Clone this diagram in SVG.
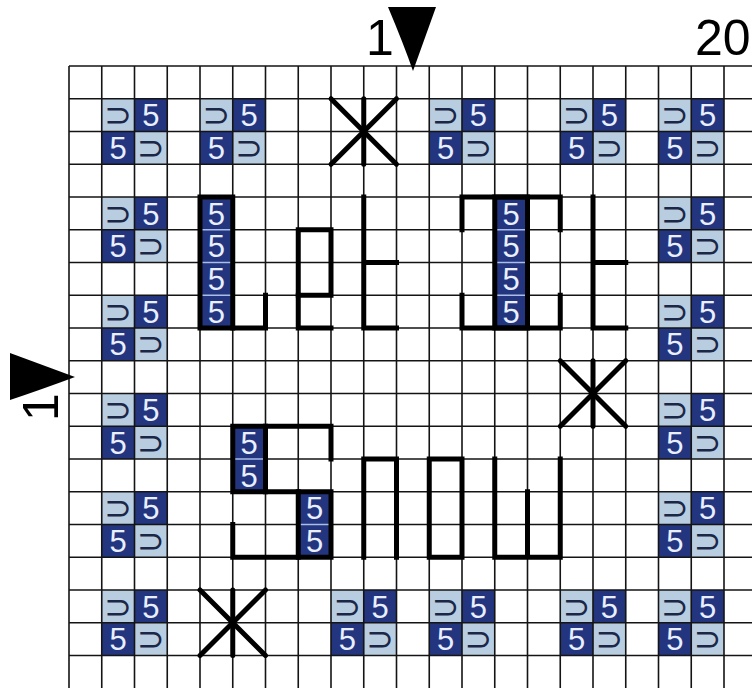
<svg xmlns="http://www.w3.org/2000/svg" xmlns:xlink="http://www.w3.org/1999/xlink" width="752" height="688" viewBox="0 0 752 688">
<style>
.lt{fill:#b9cde1}
.dk{fill:#22357e}
.sym{font-family:"DejaVu Sans",sans-serif;font-size:33px;fill:#1b2747;text-anchor:middle}
.five{font-family:"Liberation Sans",Arial,sans-serif;font-size:31px;fill:#e9efff;text-anchor:middle}
.grid{stroke:#141414;stroke-width:1.6;fill:none}
.sep{stroke:#a9bde6;stroke-width:1.4}
.thick{stroke:#000;stroke-width:5;fill:none;stroke-linecap:square}
.ast{stroke:#000;stroke-width:5;fill:none;stroke-linecap:round}
.lbl{font-family:"Liberation Sans",Arial,sans-serif;font-size:50px;fill:#000}
</style>
<defs>
<g id="motif">
<rect class="lt" x="0" y="0" width="32.75" height="32.75"/>
<rect class="dk" x="32.75" y="0" width="32.75" height="32.75"/>
<rect class="dk" x="0" y="32.75" width="32.75" height="32.75"/>
<rect class="lt" x="32.75" y="32.75" width="32.75" height="32.75"/>
<text class="sym" x="16.4" y="27.5">⊃</text>
<text class="five" x="49.1" y="27.5">5</text>
<text class="five" x="16.4" y="60.2">5</text>
<text class="sym" x="49.1" y="60.2">⊃</text>
</g>
<g id="star">
<line x1="0" y1="0" x2="65.5" y2="65.5"/>
<line x1="65.5" y1="0" x2="0" y2="65.5"/>
<line x1="32.75" y1="0" x2="32.75" y2="65.5"/>
</g>
</defs>
<rect width="752" height="688" fill="#fff"/>
<g id="motifs">
<use xlink:href="#motif" x="101.75" y="98.75"/>
<use xlink:href="#motif" x="200" y="98.75"/>
<use xlink:href="#motif" x="429.25" y="98.75"/>
<use xlink:href="#motif" x="560.25" y="98.75"/>
<use xlink:href="#motif" x="658.5" y="98.75"/>
<use xlink:href="#motif" x="101.75" y="197"/>
<use xlink:href="#motif" x="658.5" y="197"/>
<use xlink:href="#motif" x="101.75" y="295.25"/>
<use xlink:href="#motif" x="658.5" y="295.25"/>
<use xlink:href="#motif" x="101.75" y="393.5"/>
<use xlink:href="#motif" x="658.5" y="393.5"/>
<use xlink:href="#motif" x="101.75" y="491.75"/>
<use xlink:href="#motif" x="658.5" y="491.75"/>
<use xlink:href="#motif" x="101.75" y="590"/>
<use xlink:href="#motif" x="331" y="590"/>
<use xlink:href="#motif" x="429.25" y="590"/>
<use xlink:href="#motif" x="560.25" y="590"/>
<use xlink:href="#motif" x="658.5" y="590"/>
</g>
<g id="grid" class="grid">
<path d="M69,66V688M101.75,66V688M134.5,66V688M167.25,66V688M200,66V688M232.75,66V688M265.5,66V688M298.25,66V688M331,66V688M363.75,66V688M396.5,66V688M429.25,66V688M462,66V688M494.75,66V688M527.5,66V688M560.25,66V688M593,66V688M625.75,66V688M658.5,66V688M691.25,66V688M724,66V688"/>
<path d="M69,66H752M69,98.75H752M69,131.5H752M69,164.25H752M69,197H752M69,229.75H752M69,262.5H752M69,295.25H752M69,328H752M69,360.75H752M69,393.5H752M69,426.25H752M69,459H752M69,491.75H752M69,524.5H752M69,557.25H752M69,590H752M69,622.75H752M69,655.5H752"/>
</g>
<g id="letter-blocks">
<rect class="dk" x="200" y="197" width="32.75" height="131"/>
<rect class="dk" x="494.75" y="197" width="32.75" height="131"/>
<rect class="dk" x="232.75" y="426.25" width="32.75" height="65.5"/>
<rect class="dk" x="298.25" y="491.75" width="32.75" height="65.5"/>
<path class="sep" d="M202,229.75H230.75M202,262.5H230.75M202,295.25H230.75M496.75,229.75H525.5M496.75,262.5H525.5M496.75,295.25H525.5M234.75,459H263.5M300.25,524.5H329"/>
<text class="five" x="216.4" y="224.5">5</text>
<text class="five" x="216.4" y="257.2">5</text>
<text class="five" x="216.4" y="290">5</text>
<text class="five" x="216.4" y="322.7">5</text>
<text class="five" x="511.1" y="224.5">5</text>
<text class="five" x="511.1" y="257.2">5</text>
<text class="five" x="511.1" y="290">5</text>
<text class="five" x="511.1" y="322.7">5</text>
<text class="five" x="249.1" y="453.7">5</text>
<text class="five" x="249.1" y="486.5">5</text>
<text class="five" x="314.6" y="519.2">5</text>
<text class="five" x="314.6" y="552">5</text>
</g>
<g id="letters" class="thick">
<rect x="200" y="197" width="32.75" height="131"/>
<path d="M232.75,328H265.5V295.25"/>
<rect x="298.25" y="229.75" width="32.75" height="65.5"/>
<path d="M298.25,295.25V328H331"/>
<path d="M363.75,197V328H396.5M363.75,262.5H396.5"/>
<rect x="494.75" y="197" width="32.75" height="131"/>
<path d="M462,229.75V197H560.25V229.75M462,295.25V328H560.25V295.25"/>
<path d="M593,197V328H625.75M593,262.5H625.75"/>
<rect x="232.75" y="426.25" width="32.75" height="65.5"/>
<path d="M265.5,426.25H331V459M265.5,491.75H298.25"/>
<rect x="298.25" y="491.75" width="32.75" height="65.5"/>
<path d="M232.75,524.5V557.25H298.25"/>
<path d="M363.75,557.25V459H396.5V557.25"/>
<rect x="429.25" y="459" width="32.75" height="98.25"/>
<path d="M494.75,459V557.25H560.25V459M527.5,491.75V557.25"/>
</g>
<g id="stars" class="ast">
<use xlink:href="#star" x="331" y="98.75"/>
<use xlink:href="#star" x="560.25" y="360.75"/>
<use xlink:href="#star" x="200" y="590"/>
</g>
<g id="markers">
<path d="M388,7H436L413,71Q404,45 388,7Z" fill="#000"/>
<path d="M10,353L75,377Q40,390 10,400Z" fill="#000"/>
<text class="lbl" x="366" y="55">1</text>
<text class="lbl" x="695" y="55">20</text>
<text class="lbl" x="58" y="421" transform="rotate(-90 58 421)">1</text>
</g>
</svg>
